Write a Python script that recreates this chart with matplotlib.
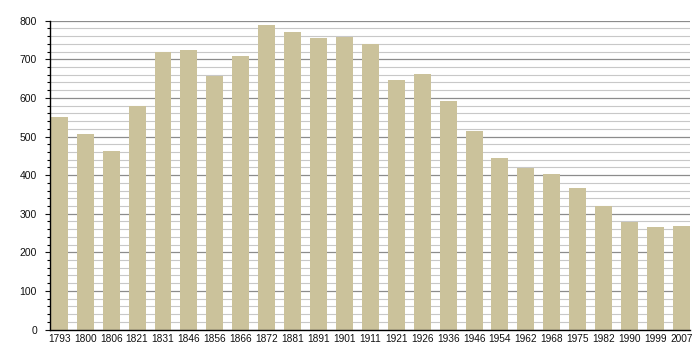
import matplotlib
matplotlib.use("Agg")
import matplotlib.pyplot as plt
from matplotlib.ticker import MultipleLocator

years = ["1793", "1800", "1806", "1821", "1831", "1846", "1856", "1866", "1872",
         "1881", "1891", "1901", "1911", "1921", "1926", "1936", "1946", "1954",
         "1962", "1968", "1975", "1982", "1990", "1999", "2007"]
population = [551, 507, 463, 579, 720, 724, 657, 709, 789,
              771, 755, 759, 740, 647, 662, 592, 515,
              445, 419, 404, 367, 320, 279, 266, 269]

plt.rcParams['font.family'] = ['Liberation Sans', 'DejaVu Sans']

fig = plt.figure(figsize=(7, 3.6), dpi=100)
ax = fig.add_axes([0.0714, 0.0847, 0.9143, 0.8578])

x = list(range(len(years)))
ax.bar(x, population, width=0.655, color="#cbc29b", zorder=3)

ax.set_ylim(0, 800)
ax.set_xlim(-0.36, len(years) - 1 + 0.33)
ax.yaxis.set_major_locator(MultipleLocator(100))
ax.yaxis.set_minor_locator(MultipleLocator(20))
ax.grid(axis='y', which='major', color='#8c8c8c', linewidth=0.9, zorder=1)
ax.grid(axis='y', which='minor', color='#c8c8c8', linewidth=0.8, zorder=1)
ax.set_axisbelow(True)

ax.set_xticks(x)
ax.set_xticklabels(years)
ax.tick_params(axis='x', length=0, pad=3, labelsize=7.3, colors='#111111')
ax.tick_params(axis='y', which='major', length=3.3, width=0.8, direction='out', pad=6, labelsize=7.5, colors='#111111')
ax.tick_params(axis='y', which='minor', length=2, width=0.8, direction='out')

for s in ['top', 'right']:
    ax.spines[s].set_visible(False)
ax.spines['left'].set_color('black')
ax.spines['bottom'].set_color('black')
ax.spines['left'].set_linewidth(1.0)
ax.spines['bottom'].set_linewidth(1.0)
ax.spines['left'].set_zorder(4)
ax.spines['bottom'].set_zorder(4)

fig.savefig("out.png", dpi=100, facecolor="white")
